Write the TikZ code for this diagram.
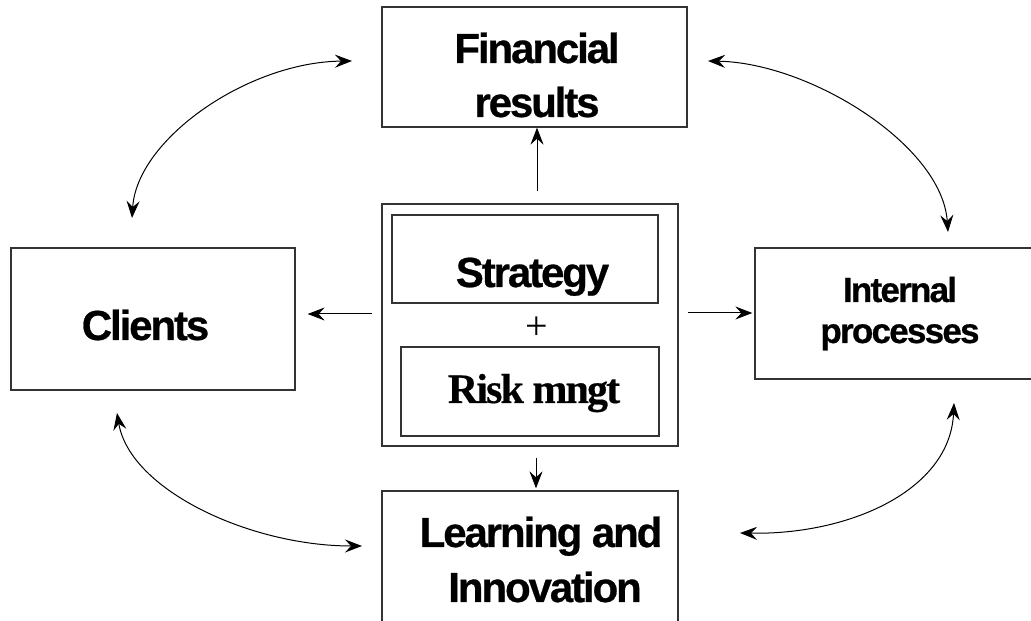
\documentclass[tikz,border=0pt]{standalone}
\usepackage{fontspec}
\usetikzlibrary{arrows.meta}
\newfontfamily\sansb[LetterSpace=-5,FakeBold=0.6]{Liberation Sans}
\newfontfamily\serifb[LetterSpace=-4.5,FakeBold=0.4]{Liberation Serif}
\newfontfamily\serifr{Liberation Serif}
\begin{document}
\begin{tikzpicture}[x=1pt,y=1pt,
  box/.style={draw=black!80, line width=1.3pt, rectangle, inner sep=0pt},
  lbl/.style={inner sep=0pt, anchor=base, font=\sansb\bfseries\fontsize{42}{50}\selectfont},
  lbls/.style={inner sep=0pt, anchor=base, font=\sansb\bfseries\fontsize{35}{40}\selectfont},
  lblr/.style={inner sep=0pt, anchor=base, font=\serifb\bfseries\fontsize{42}{50}\selectfont},
  arr/.style={-{Stealth[length=17pt,width=13pt,inset=6pt]}, line width=1pt},
  dbl/.style={{Stealth[length=17pt,width=13pt,inset=6pt]}-{Stealth[length=17pt,width=13pt,inset=6pt]}, line width=1pt}]
\useasboundingbox[fill=white] (0,0) rectangle (1031,621);

% boxes
\node[box, minimum width=305pt, minimum height=120pt] (fin) at (534.5,554) {};
\node[box, minimum width=296pt, minimum height=242pt] (outer) at (530,296) {};
\node[box, minimum width=266pt, minimum height=88pt] (strat) at (525,362) {};
\node[box, minimum width=258pt, minimum height=89pt] (risk) at (530,229.5) {};
\node[box, minimum width=284pt, minimum height=142pt] (clients) at (153,302) {};
\node[box, minimum width=278pt, minimum height=131pt] (internal) at (894,307.5) {};
\node[box, minimum width=296pt, minimum height=139pt] (learn) at (530,60.5) {};

% labels
\node[lbl] (finA) at (537,558) {Financial};
\node[lbl] (finB) at (537,504) {results};
\node[lbl] (stratT) at (532.5,334) {Strategy};
\node[inner sep=0pt, font=\serifr\fontsize{40}{40}\selectfont] (plus) at (537,293) {+};
\node[lblr] (riskT) at (534,218) {Risk mngt};
\node[lbl] (clientsT) at (145.5,281) {Clients};
\node[lbls] (intA) at (900,319) {Internal};
\node[lbls] (intB) at (900,278) {processes};
\node[lbl] (learnA) at (541,74) {Learning and};
\node[lbl] (learnB) at (545,19) {Innovation};

% straight arrows
\draw[arr] ([xshift=7pt,yshift=12pt]outer.north) -- ([xshift=2.5pt]fin.south);
\draw[arr] ([xshift=-9pt,yshift=11pt]outer.west) -- ([xshift=12pt,yshift=5pt]clients.east);
\draw[arr] ([xshift=9pt,yshift=12pt]outer.east) -- ([xshift=-2pt,yshift=0.5pt]internal.west);
\draw[arr] ([xshift=6pt,yshift=-11pt]outer.south) -- ([xshift=6pt,yshift=2pt]learn.north);

% curved double arrows
\coordinate (tlA) at (132,403);
\coordinate (tlB) at (352,560);
\coordinate (trA) at (708,560);
\coordinate (trB) at (948,389);
\coordinate (blA) at (117,208);
\coordinate (blB) at (362,75);
\coordinate (brA) at (954,218);
\coordinate (brB) at (740,88);
\draw[dbl] (tlA) .. controls (137,482) and (248,559) .. (tlB);
\draw[dbl] (trA) .. controls (810,558) and (942,476) .. (trB);
\draw[dbl] (blA) .. controls (130,131) and (250,75) .. (blB);
\draw[dbl] (brA) .. controls (950,131) and (850,86) .. (brB);
\end{tikzpicture}
\end{document}
